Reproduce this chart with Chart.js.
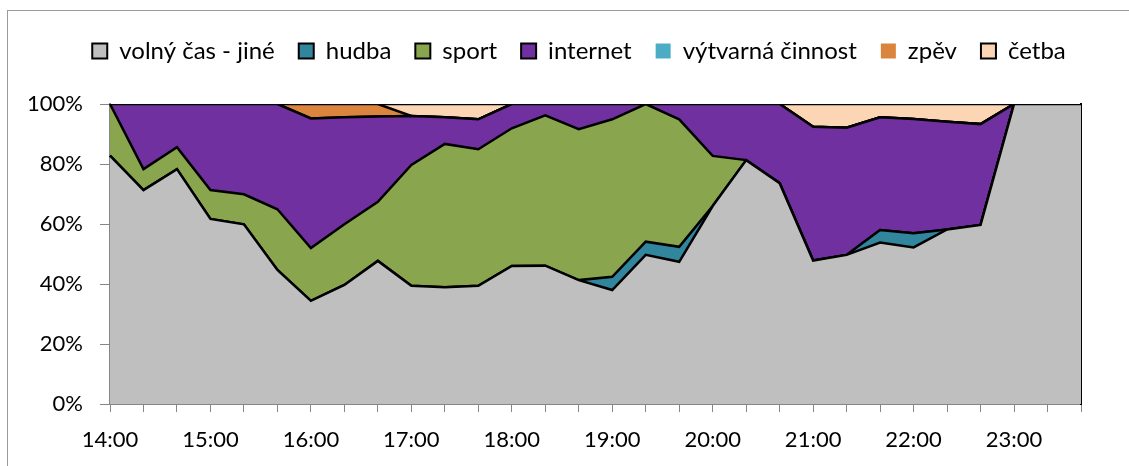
<!DOCTYPE html>
<html>
<head>
<meta charset="utf-8">
<script src="https://cdn.jsdelivr.net/npm/chart.js@4/dist/chart.umd.min.js"></script>
<style>
  html, body { margin:0; padding:0; background:#fff; }
  #wrap { position:relative; width:1129px; height:466px; }
  #frame { position:absolute; left:7px; top:10px; right:0; bottom:0; border-left:1px solid #9a9a9a; border-top:1px solid #9a9a9a; pointer-events:none; }
</style>
</head>
<body>
<div id="wrap">
  <canvas id="chart" width="1129" height="466"></canvas>
  <div id="frame"></div>
</div>
<script>
const times = ["14:00","14:20","14:40","15:00","15:20","15:40","16:00","16:20","16:40","17:00",
  "17:20","17:40","18:00","18:20","18:40","19:00","19:20","19:40","20:00","20:20",
  "20:40","21:00","21:20","21:40","22:00","22:20","22:40","23:00","23:20","23:40"];

const volnyCas = [82.8,71.3,78.3,61.7,59.9,44.7,34.4,39.7,47.7,39.4,38.9,39.4,46.0,46.1,41.3,
  38.0,49.7,47.4,66.0,81.3,73.6,47.8,49.7,53.8,52.2,58.2,59.7,100,100,100];
const hudba = [0,0,0,0,0,0,0,0,0,0,0,0,0,0,0,4.4,4.4,5.0,0,0,0,0,0,4.2,4.7,0,0,0,0,0];
const sport = [17.2,7.0,7.3,9.6,10.0,20.2,17.6,20.2,19.7,40.3,47.8,45.5,45.9,50.1,50.3,
  52.5,45.9,42.5,16.7,0,0,0,0,0,0,0,0,0,0,0];
const internet = [0,21.7,14.4,28.7,30.1,35.1,43.2,35.7,28.4,16.3,8.9,10.0,8.1,3.8,8.4,
  5.1,0,5.1,17.3,18.7,26.4,44.6,42.4,37.6,38.1,35.9,33.6,0,0,0];
const vytvarna = [0,0,0,0,0,0,0,0,0,0,0,0,0,0,0,0,0,0,0,0,0,0,0,0,0,0,0,0,0,0];
const zpev = [0,0,0,0,0,0,4.8,4.4,4.2,0,0,0,0,0,0,0,0,0,0,0,0,0,0,0,0,0,0,0,0,0];
const cetba = [0,0,0,0,0,0,0,0,0,4.0,4.4,5.1,0,0,0,0,0,0,0,0,0,7.6,7.9,4.4,5.0,5.9,6.7,0,0,0];

const yTicks = [0,20,40,60,80,100];

const series = [
  { label:"volný čas - jiné", data:volnyCas, color:"#BFBFBF", boxLine:2 },
  { label:"hudba", data:hudba, color:"#31859C", boxLine:2 },
  { label:"sport", data:sport, color:"#89A54E", boxLine:2 },
  { label:"internet", data:internet, color:"#7030A0", boxLine:2 },
  { label:"výtvarná činnost", data:vytvarna, color:"#4BACC6", boxLine:0 },
  { label:"zpěv", data:zpev, color:"#DB843D", boxLine:0 },
  { label:"četba", data:cetba, color:"#FCD5B5", boxLine:2 }
];

const FONT = "Lato";
Chart.defaults.font.family = FONT;
Chart.defaults.font.size = 22;
Chart.defaults.color = "#000";

// legend takes the whole band above the plot (minus the top padding)
const legendBand = {
  id:"legendBand",
  beforeInit(chart) {
    const fit = chart.legend.fit;
    chart.legend.fit = function () { fit.call(this); this.height = 89; };
  }
};

const ctx = document.getElementById("chart");
new Chart(ctx, {
  type:"line",
  data:{
    labels:times,
    datasets:series.map((s, i) => ({
      label:s.label,
      data:s.data,
      backgroundColor:s.color,
      borderColor:"#000",
      borderWidth:2.5,
      fill: i === 0 ? "origin" : "-1",
      pointRadius:0,
      pointHoverRadius:0,
      tension:0
    }))
  },
  options:{
    responsive:false,
    animation:false,
    layout:{ padding:{ left:29, right:0, top:15, bottom:0 } },
    plugins:{
      tooltip:{ enabled:false },
      legend:{
        position:"top",
        labels:{
          boxWidth:15,
          boxHeight:15,
          padding:24,
          font:{ family:FONT, size:24 },
          generateLabels(chart) {
            const items = Chart.defaults.plugins.legend.labels.generateLabels(chart);
            items.forEach((it, i) => { it.strokeStyle = "#000"; it.lineWidth = series[i].boxLine; });
            return items;
          }
        }
      }
    },
    scales:{
      x:{
        offset:false,
        grid:{ display:true, drawOnChartArea:false, drawTicks:true, tickLength:8, color:"#868686", offset:false },
        border:{ display:true, color:"#868686", width:2 },
        ticks:{
          autoSkip:false, maxRotation:0, padding:15,
          font:{ family:FONT, size:22 },
          callback:(v, i) => i % 3 === 0 ? times[i] : ""
        },
        afterFit:(s) => { s.height = 62; }
      },
      y:{
        stacked:true,
        min:0, max:100,
        afterBuildTicks:(s) => { s.ticks = yTicks.map(v => ({ value:v })); },
        grid:{ display:true, drawOnChartArea:false, drawTicks:true, tickLength:10, color:"#868686" },
        border:{ display:true, color:"#868686", width:2 },
        ticks:{ padding:17, font:{ family:FONT, size:22 }, callback:(v) => v + "%" },
        afterFit:(s) => { s.width = 81; }
      },
      yRight:{
        position:"right",
        min:0, max:100,
        grid:{ display:false },
        border:{ display:true, color:"#000", width:2 },
        ticks:{ display:false },
        afterFit:(s) => { s.width = 48; }
      }
    }
  },
  plugins:[legendBand]
});
</script>
</body>
</html>
